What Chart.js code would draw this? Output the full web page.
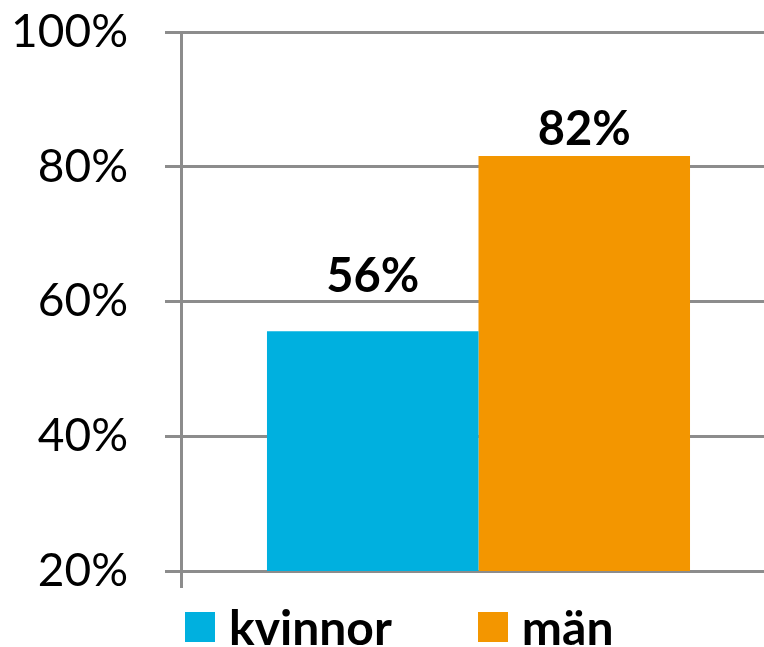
<!DOCTYPE html>
<html lang="sv">
<head>
    <meta charset="UTF-8">
    <title>kvinnor / män</title>
    <script src="https://cdn.jsdelivr.net/npm/chart.js"></script>
    <style>
        html, body { margin: 0; padding: 0; background: #fff; overflow: hidden; }
        #chartWrap { position: relative; width: 776px; height: 647px; }
        #legend {
            position: absolute; left: 185px; top: 598px;
            display: flex; align-items: center;
            font-family: Lato, "Open Sans", sans-serif; font-weight: bold; font-size: 48px; color: #000;
        }
        #legend .item { display: flex; align-items: center; margin-right: 86px; }
        #legend .box { width: 30px; height: 30px; margin-right: 14px; }
    </style>
</head>
<body>
    <div id="chartWrap">
        <canvas id="barChart"></canvas>
        <div id="legend"></div>
    </div>

    <script>
        const categories = [''];
        const seriesNames = ['kvinnor', 'män'];
        const kvinnorValues = [55.6];
        const manValues = [81.6];
        const yTicks = [20, 40, 60, 80, 100];

        const gridGray = '#8c8c8c';
        const fontFamily = 'Lato, "Open Sans", sans-serif';
        const labelGap = [39, 11];   // distance of value label above the bar, per series

        // draws the bold value labels above each bar
        const valueLabels = {
            id: 'valueLabels',
            afterDatasetsDraw(chart) {
                const ctx = chart.ctx;
                ctx.save();
                ctx.font = 'bold 47px ' + fontFamily;
                ctx.fillStyle = '#000';
                ctx.textAlign = 'center';
                ctx.textBaseline = 'alphabetic';
                chart.data.datasets.forEach((ds, i) => {
                    chart.getDatasetMeta(i).data.forEach((bar, j) => {
                        ctx.fillText(Math.round(ds.data[j]) + '%', bar.x, bar.y - labelGap[i]);
                    });
                });
                ctx.restore();
            }
        };

        const ctx = document.getElementById('barChart').getContext('2d');
        const barChart = new Chart(ctx, {
            type: 'bar',
            data: {
                labels: categories,
                datasets: [{
                    label: seriesNames[0],
                    data: kvinnorValues,
                    backgroundColor: '#00B0DF'
                }, {
                    label: seriesNames[1],
                    data: manValues,
                    backgroundColor: '#F39600'
                }]
            },
            options: {
                responsive: true,
                maintainAspectRatio: false,
                animation: false,
                layout: { padding: { top: 0, left: 0, right: 0, bottom: 54 } },
                datasets: {
                    bar: { barPercentage: 1, categoryPercentage: 0.711 }
                },
                plugins: {
                    tooltip: { enabled: false },
                    legend: { display: false }
                },
                scales: {
                    x: {
                        grid: {
                            offset: true,
                            drawOnChartArea: false,
                            color: gridGray,
                            lineWidth: 3,
                            tickLength: 17
                        },
                        border: { display: false },
                        ticks: { display: true, font: { size: 1 } },
                        afterFit(scale) { scale.height = 22; }
                    },
                    y: {
                        min: yTicks[0],
                        max: yTicks[yTicks.length - 1],
                        afterBuildTicks(scale) {
                            scale.ticks = yTicks.map(v => ({ value: v }));
                        },
                        grid: {
                            color: gridGray,
                            lineWidth: 3,
                            tickLength: 16
                        },
                        border: { color: gridGray, width: 3 },
                        ticks: {
                            padding: 37,
                            color: '#000',
                            font: { family: fontFamily, size: 46 },
                            callback: value => value + '%'
                        },
                        afterFit(scale) {
                            scale.width = 181;
                            scale.paddingTop = 32;
                        }
                    }
                }
            },
            plugins: [valueLabels]
        });

        // html legend built from the datasets
        const legendEl = document.getElementById('legend');
        barChart.data.datasets.forEach(ds => {
            const item = document.createElement('div');
            item.className = 'item';
            const box = document.createElement('span');
            box.className = 'box';
            box.style.background = ds.backgroundColor;
            item.appendChild(box);
            item.appendChild(document.createTextNode(ds.label));
            legendEl.appendChild(item);
        });
    </script>
</body>
</html>
